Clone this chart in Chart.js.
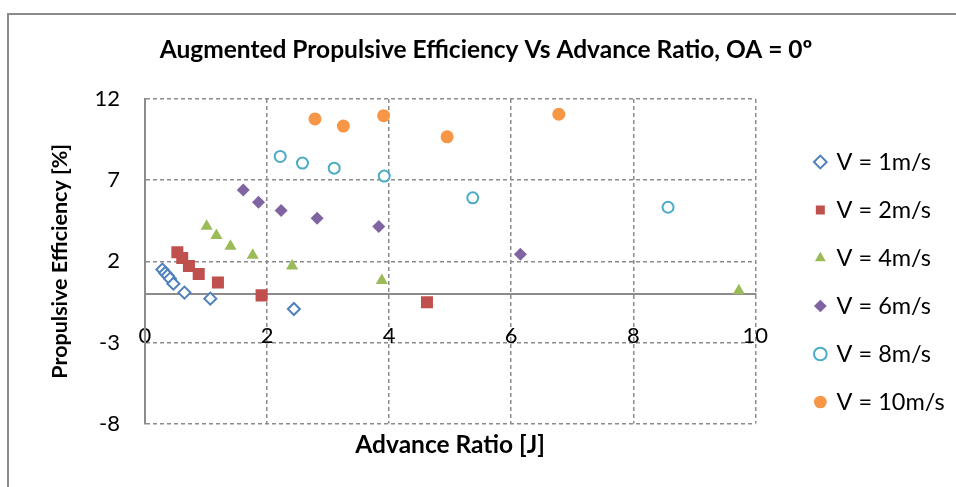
<!DOCTYPE html>
<html><head><meta charset="utf-8">
<script src="https://cdn.jsdelivr.net/npm/chart.js@4"></script>
<style>
html,body{margin:0;padding:0;background:#fff;overflow:hidden}
#wrap{position:relative;width:956px;height:487px}
#frame{position:absolute;left:7px;top:13px;width:1000px;height:1000px;border-left:2px solid #8c8c8c;border-top:2px solid #8c8c8c;pointer-events:none}
canvas{position:absolute;left:0;top:0}
</style></head>
<body><div id="wrap"><canvas id="c" width="956" height="487"></canvas><div id="frame"></div></div>
<script>
const seriesNames = ['V = 1m/s','V = 2m/s','V = 4m/s','V = 6m/s','V = 8m/s','V = 10m/s'];
const v1J = [0.285,0.33,0.37,0.41,0.465,0.646,1.07,2.44];
const v1E = [1.49,1.28,1.13,0.93,0.62,0.07,-0.30,-0.94];
const v2J = [0.53,0.61,0.72,0.88,1.195,1.91,4.62];
const v2E = [2.56,2.21,1.71,1.22,0.70,-0.10,-0.53];
const v4J = [1.01,1.17,1.40,1.765,2.41,3.88,9.73];
const v4E = [4.16,3.59,2.93,2.37,1.71,0.81,0.18];
const v6J = [1.61,1.86,2.23,2.82,3.83,6.15];
const v6E = [6.40,5.64,5.13,4.65,4.14,2.43];
const v8J = [2.215,2.58,3.10,3.92,5.37,8.57];
const v8E = [8.46,8.05,7.74,7.25,5.91,5.33];
const v10J = [2.785,3.25,3.91,4.95,6.78];
const v10E = [10.77,10.33,10.97,9.67,11.06];
const xTicks = [0,2,4,6,8,10];
const yTicks = [-8,-3,2,7,12];

const FONT = 'Lato';
const GRID = '#8c8c8c';
function pts(xs, ys){ return xs.map((x,i)=>({x:x,y:ys[i]})); }

const styles = [
  {pointStyle:'rectRot', pointRadius:6, pointBorderWidth:2, backgroundColor:'#ffffff', borderColor:'#4f81bd'},
  {pointStyle:'rect', pointRadius:8.5, pointBorderWidth:0, backgroundColor:'#c0504d', borderColor:'#c0504d'},
  {pointStyle:'triangle', pointRadius:7, pointBorderWidth:0, backgroundColor:'#9bbb59', borderColor:'#9bbb59'},
  {pointStyle:'rectRot', pointRadius:6.5, pointBorderWidth:0, backgroundColor:'#8064a2', borderColor:'#8064a2'},
  {pointStyle:'circle', pointRadius:5.5, pointBorderWidth:2, backgroundColor:'#ffffff', borderColor:'#4bacc6'},
  {pointStyle:'circle', pointRadius:6.5, pointBorderWidth:0, backgroundColor:'#f79646', borderColor:'#f79646'}
];
const allData = [pts(v1J,v1E),pts(v2J,v2E),pts(v4J,v4E),pts(v6J,v6E),pts(v8J,v8E),pts(v10J,v10E)];
const datasets = allData.map((d,i)=>Object.assign({
  label: seriesNames[i], data: d, showLine:false, borderWidth: styles[i].pointBorderWidth, pointHoverRadius: styles[i].pointRadius
}, styles[i]));

new Chart(document.getElementById('c'), {
  type:'scatter',
  data:{datasets:datasets},
  options:{
    responsive:false, animation:false,
    layout:{padding:{left:28,right:12,top:0,bottom:0}},
    plugins:{
      title:{display:true, text:'Augmented Propulsive Efficiency Vs Advance Ratio, OA = 0º',
        color:'#000', font:{family:FONT, size:24.5, weight:'bold', lineHeight:1.2}, padding:{top:35,bottom:34.6}},
      subtitle:{display:true, position:'bottom', fullSize:false, text:'Advance Ratio [J]', color:'#000',
        font:{family:FONT, size:24.5, weight:'bold', lineHeight:1.2}, padding:{top:7,bottom:27}},
      legend:{position:'right', align:'center',
        title:{display:true, text:'', font:{size:2}, padding:{top:74.6,bottom:0}},
        labels:{usePointStyle:true, boxHeight:9, boxWidth:9, padding:24.5, color:'#000', font:{family:FONT, size:23.5}}},
      tooltip:{enabled:false}
    },
    scales:{
      x:{type:'linear', position:{y:0}, min:0, max:10,
        afterBuildTicks:(s)=>{ s.ticks = xTicks.map(v=>({value:v})); },
        grid:{color:GRID, lineWidth:1.5, drawTicks:false},
        border:{display:true, color:'#8c8c8c', width:2, dash:[4,3]},
        ticks:{padding:29, color:'#000', font:{family:FONT, size:22}}
      },
      y:{type:'linear', min:-8, max:12,
        afterBuildTicks:(s)=>{ s.ticks = yTicks.map(v=>({value:v})); },
        afterFit:(s)=>{ s.width = 117; },
        grid:{color:GRID, lineWidth:1.5, drawTicks:false},
        border:{display:true, color:'#8c8c8c', width:2, dash:[4,3]},
        ticks:{padding:25, color:'#000', font:{family:FONT, size:22}},
        title:{display:true, text:'Propulsive Efficiency [%]', color:'#000',
          font:{family:FONT, size:21.5, weight:'bold', lineHeight:1.2}, padding:{top:19,bottom:0}}
      },
      gap:{type:'linear', position:'right', display:true, min:0, max:1,
        afterFit:(s)=>{ s.width = 36; },
        grid:{display:false, drawOnChartArea:false},
        border:{display:false},
        ticks:{display:false}
      }
    }
  }
});
</script></body></html>
